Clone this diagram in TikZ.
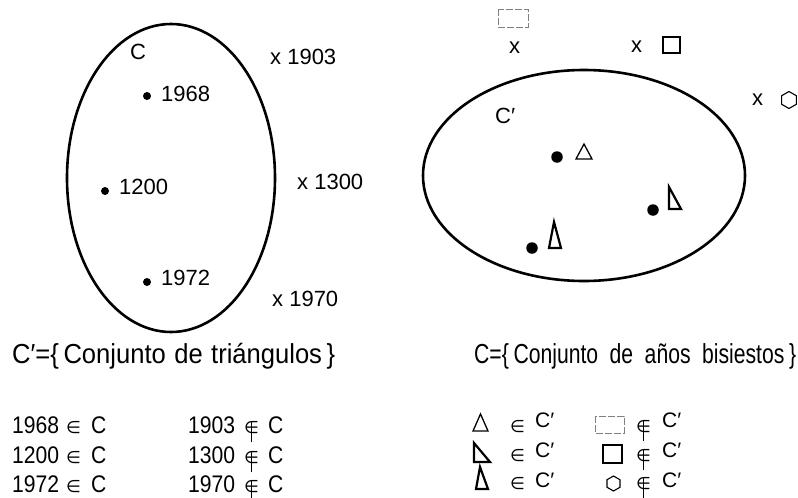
\documentclass[tikz,border=0pt]{standalone}
\usepackage{fontspec}
\setmainfont{Liberation Sans}
\newfontfamily\capfont[FakeStretch=0.77]{Liberation Sans}
\newfontfamily\capfontL[FakeStretch=0.93]{Liberation Sans}
\newfontfamily\tabfont[FakeStretch=0.88]{Liberation Sans}
\newfontfamily\symfont{DejaVu Sans}
\newcommand\myin{{\symfont\fontsize{17}{17}\selectfont ∈}}
\newcommand\mynotin{{\symfont\fontsize{17}{17}\selectfont\ooalign{∈\cr\hfil\rule[-0.55em]{0.07em}{1.2em}\hfil\cr}}}
\begin{document}
\begin{tikzpicture}[x=1pt,y=-1pt,
  setline/.style={line width=2.6pt},
  dotl/.style={circle,fill,inner sep=0pt,minimum size=8pt},
  dotr/.style={circle,fill,inner sep=0pt,minimum size=11.5pt},
  lbl/.style={font=\fontsize{22}{22}\selectfont,inner sep=0pt,anchor=base west},
  tabl/.style={font=\tabfont\fontsize{24}{24}\selectfont,inner sep=0pt,anchor=base west},
  tabr/.style={font=\fontsize{21}{21}\selectfont,inner sep=0pt,anchor=base west},
  sym/.style={inner sep=0pt,anchor=base west},
  captxt/.style={inner sep=0pt,anchor=base west},
  thinln/.style={line width=1.3pt,line join=miter},
  boldln/.style={line width=2.2pt,line join=miter},
  faint/.style={gray,line width=0.9pt,dash pattern=on 7pt off 2pt}
]
\useasboundingbox (0,0) rectangle (798,498);

% ---------- left diagram ----------
\draw[setline] (171,178) ellipse [x radius=104, y radius=154];
\node[lbl] (C) at (130,59) {C};
\node[dotl] (d1968) at (147,96) {};
\node[lbl] (l1968) at (161,101) {1968};
\node[dotl] (d1200) at (105,191) {};
\node[lbl] (l1200) at (119,194) {1200};
\node[dotl] (d1972) at (147,282) {};
\node[lbl] (l1972) at (161,285) {1972};
\node[lbl] (x1903) at (270,64) {x 1903};
\node[lbl] (x1300) at (297,189) {x 1300};
\node[lbl] (x1970) at (272,306) {x 1970};

% ---------- right diagram ----------
\draw[setline] (584,175.5) ellipse [x radius=161, y radius=105.5];
\node[lbl] (Cp) at (495,123) {C′};
\node[dotr] (p1) at (557,157) {};
\draw[thinln] (584,144) -- (592,159) -- (576,159) -- cycle;
\node[dotr] (p2) at (653,210) {};
\draw[boldln] (669,187) -- (681,209) -- (669,209) -- cycle;
\node[dotr] (p3) at (532,248) {};
\draw[boldln] (554,222) -- (561,248) -- (549,248) -- cycle;

\draw[faint] (498,9) rectangle (528,27);
\node[lbl] (xa) at (509,53) {x};
\node[lbl] (xb) at (631,52) {x};
\draw[line width=1.2pt] (663,37) rectangle (680,53);
\node[lbl] (xc) at (752,105) {x};
\draw[line width=1.1pt] (789,100) +(0,-8.5) -- +(7.4,-4.25) -- +(7.4,4.25) -- +(0,8.5) -- +(-7.4,4.25) -- +(-7.4,-4.25) -- cycle;

% ---------- captions ----------
\node[captxt] (capL) at (12,363) {\capfontL\fontsize{27.5}{27.5}\selectfont\makebox[323pt][s]{C′=\{\,Conjunto de triángulos\,\}}};
\node[captxt] (capR) at (474,363) {\capfont\fontsize{27.5}{27.5}\selectfont\makebox[322pt][s]{C=\{\,Conjunto de años bisiestos\,\}}};

% ---------- left table ----------
\node[tabl] (t1a) at (12,433) {1968};
\node[sym]  (t1b) at (66,433) {\myin};
\node[tabl] (t1c) at (91,433) {C};
\node[tabl] (t2a) at (12,463) {1200};
\node[sym]  (t2b) at (66,463) {\myin};
\node[tabl] (t2c) at (91,463) {C};
\node[tabl] (t3a) at (12,492) {1972};
\node[sym]  (t3b) at (66,492) {\myin};
\node[tabl] (t3c) at (91,492) {C};

\node[tabl] (u1a) at (188,433) {1903};
\node[sym]  (u1b) at (244,433) {\mynotin};
\node[tabl] (u1c) at (268,433) {C};
\node[tabl] (u2a) at (188,463) {1300};
\node[sym]  (u2b) at (244,463) {\mynotin};
\node[tabl] (u2c) at (268,463) {C};
\node[tabl] (u3a) at (188,492) {1970};
\node[sym]  (u3b) at (244,492) {\mynotin};
\node[tabl] (u3c) at (268,492) {C};

% ---------- right table ----------
\draw[thinln] (480.5,414) -- (488,431) -- (473,431) -- cycle;
\node[sym]  (r1b) at (510,432) {\myin};
\node[tabr] (r1c) at (535,427) {C′};
\draw[boldln] (474,443) -- (490,462) -- (474,462) -- cycle;
\node[sym]  (r2b) at (510,461) {\myin};
\node[tabr] (r2c) at (535,457) {C′};
\draw[boldln] (480,467) -- (488,489) -- (476,489) -- cycle;
\node[sym]  (r3b) at (510,489) {\myin};
\node[tabr] (r3c) at (535,487) {C′};

\draw[faint] (595,416) rectangle (624,433);
\node[sym]  (s1b) at (636,432) {\mynotin};
\node[tabr] (s1c) at (662,427) {C′};
\draw[line width=1.2pt] (603,445) rectangle (622,463);
\node[sym]  (s2b) at (636,461) {\mynotin};
\node[tabr] (s2c) at (662,457) {C′};
\draw[line width=1.1pt] (613.5,483.5) +(0,-7.5) -- +(6.5,-3.75) -- +(6.5,3.75) -- +(0,7.5) -- +(-6.5,3.75) -- +(-6.5,-3.75) -- cycle;
\node[sym]  (s3b) at (636,489) {\mynotin};
\node[tabr] (s3c) at (662,487) {C′};
\end{tikzpicture}
\end{document}
